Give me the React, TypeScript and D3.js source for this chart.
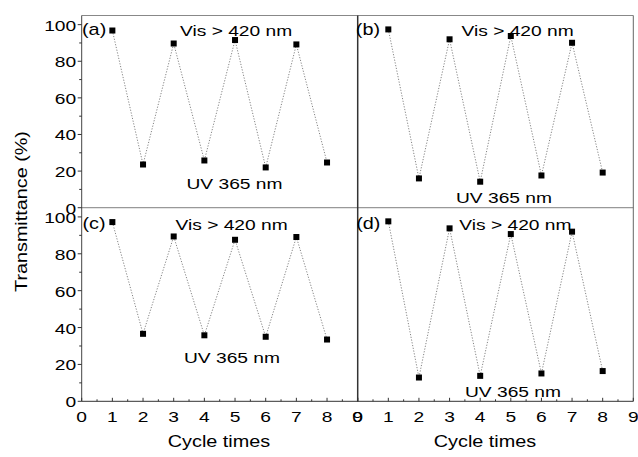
import React from "react";
import * as d3 from "d3";

// Cycle number (x) and transmittance (%) per panel
const cycles = [1, 2, 3, 4, 5, 6, 7, 8];
const seriesA = [96.8, 23.6, 89.7, 25.8, 91.6, 22.0, 89.2, 24.7];
const seriesB = [97.4, 16.0, 92.0, 14.2, 93.8, 17.6, 90.1, 19.2];
const seriesC = [97.2, 36.6, 89.4, 35.8, 87.6, 35.0, 89.1, 33.5];
const seriesD = [97.6, 12.9, 93.8, 13.8, 90.7, 15.1, 92.0, 16.4];
const panelLabels = ["(a)", "(b)", "(c)", "(d)"];
const xTicks = [0, 1, 2, 3, 4, 5, 6, 7, 8, 9];
const yTicks = [0, 20, 40, 60, 80, 100];
const visLabel = "Vis > 420 nm";
const uvLabel = "UV 365 nm";
const xTitle = "Cycle times";
const yTitle = "Transmittance (%)";

const W = 638;
const H = 457;
const FONT = "Liberation Sans, Arial, sans-serif";
const STRETCH = 1.24;

type Panel = {
  values: number[];
  label: string;
  col: number;
  row: number;
  tag: [number, number];
  vis: [number, number];
  uv: [number, number];
};

const colX: [number, number][] = [
  [81.7, 357.7],
  [357.7, 633.3],
];
const rowY: [number, number][] = [
  [207.7, 15.5],
  [401.3, 207.7],
];

const panels: Panel[] = [
  { values: seriesA, label: panelLabels[0], col: 0, row: 0, tag: [82, 34.5], vis: [180, 36], uv: [186.5, 189] },
  { values: seriesB, label: panelLabels[1], col: 1, row: 0, tag: [355.8, 34.5], vis: [461.5, 36], uv: [456, 203] },
  { values: seriesC, label: panelLabels[2], col: 0, row: 1, tag: [82.5, 229], vis: [175.5, 229.5], uv: [184, 363] },
  { values: seriesD, label: panelLabels[3], col: 1, row: 1, tag: [356.2, 229], vis: [459.3, 229.5], uv: [465, 397] },
];

// Horizontally widened text, anchored at (x, y)
function T({
  x,
  y,
  size,
  anchor = "start",
  children,
}: {
  x: number;
  y: number;
  size: number;
  anchor?: "start" | "middle" | "end";
  children: React.ReactNode;
}) {
  return (
    <text
      transform={`translate(${x},${y}) scale(${STRETCH},1)`}
      textAnchor={anchor}
      fontSize={size}
      fontFamily={FONT}
      fill="#000"
    >
      {children}
    </text>
  );
}

function PanelView({ p }: { p: Panel }) {
  const x = d3.scaleLinear().domain([0, 9]).range(colX[p.col]);
  const y = d3.scaleLinear().domain([0, 105]).range(rowY[p.row]);
  const line = d3
    .line<number>()
    .x((_, i) => x(cycles[i]))
    .y((v) => y(v));
  const s = 6;
  return (
    <g>
      <path
        d={line(p.values) || ""}
        fill="none"
        stroke="#777"
        strokeWidth={0.9}
        strokeDasharray="1.2,1.6"
      />
      {p.values.map((v, i) => (
        <rect
          key={i}
          x={x(cycles[i]) - s / 2}
          y={y(v) - s / 2}
          width={s}
          height={s}
          fill="#000"
        />
      ))}
      <T x={p.tag[0]} y={p.tag[1]} size={16}>
        {p.label}
      </T>
      <T x={p.vis[0]} y={p.vis[1]} size={15.5}>
        {visLabel}
      </T>
      <T x={p.uv[0]} y={p.uv[1]} size={15.5}>
        {uvLabel}
      </T>
    </g>
  );
}

function YAxis({ row }: { row: number }) {
  const y = d3.scaleLinear().domain([0, 105]).range(rowY[row]);
  const x0 = colX[0][0];
  const minor = d3.range(10, 101, 20);
  return (
    <g>
      {yTicks.map((t) => (
        <g key={t}>
          <line x1={x0 - 4} x2={x0} y1={y(t)} y2={y(t)} stroke="#333" strokeWidth={1} />
          <T x={x0 - 5.5} y={y(t) + 6} size={15.5} anchor="end">
            {t}
          </T>
        </g>
      ))}
      {minor.map((t) => (
        <line key={t} x1={x0 - 2.5} x2={x0} y1={y(t)} y2={y(t)} stroke="#333" strokeWidth={1} />
      ))}
    </g>
  );
}

function XAxis({ col, titleX }: { col: number; titleX: number }) {
  const x = d3.scaleLinear().domain([0, 9]).range(colX[col]);
  const yb = rowY[1][0];
  const minor = d3.range(0.5, 9, 1);
  return (
    <g>
      {xTicks.map((t) => (
        <g key={t}>
          <line x1={x(t)} x2={x(t)} y1={yb} y2={yb - 3.5} stroke="#333" strokeWidth={1} />
          <T x={x(t)} y={yb + 20.5} size={15.5} anchor="middle">
            {t}
          </T>
        </g>
      ))}
      {minor.map((t) => (
        <line key={t} x1={x(t)} x2={x(t)} y1={yb} y2={yb - 2} stroke="#333" strokeWidth={1} />
      ))}
      <T x={titleX} y={447} size={16} anchor="middle">
        {xTitle}
      </T>
    </g>
  );
}

export default function App() {
  const left = colX[0][0];
  const mid = colX[0][1];
  const right = colX[1][1];
  const top = rowY[0][1];
  const middle = rowY[0][0];
  const bottom = rowY[1][0];
  return (
    <svg
      width={W}
      height={H}
      style={{ position: "absolute", left: 0, top: 0, background: "#fff" }}
    >
      <rect x={0} y={0} width={W} height={H} fill="#fff" />
      {/* frame */}
      <line x1={left} x2={right} y1={top} y2={top} stroke="#888" strokeWidth={1} />
      <line x1={left} x2={right} y1={middle} y2={middle} stroke="#999" strokeWidth={1.2} />
      <line x1={left} x2={right} y1={bottom} y2={bottom} stroke="#333" strokeWidth={1} />
      <line x1={left} x2={left} y1={top} y2={bottom} stroke="#444" strokeWidth={1} />
      <line x1={mid} x2={mid} y1={top} y2={bottom} stroke="#333" strokeWidth={1.5} />
      <line x1={right} x2={right} y1={top} y2={bottom} stroke="#666" strokeWidth={1} />
      <YAxis row={0} />
      <YAxis row={1} />
      <XAxis col={0} titleX={219} />
      <XAxis col={1} titleX={485} />
      {panels.map((p) => (
        <PanelView key={p.label} p={p} />
      ))}
      <text
        transform={`translate(27,211.5) rotate(-90) scale(1.2,1)`}
        textAnchor="middle"
        fontSize={16.5}
        fontFamily={FONT}
        fill="#000"
      >
        {yTitle}
      </text>
    </svg>
  );
}
